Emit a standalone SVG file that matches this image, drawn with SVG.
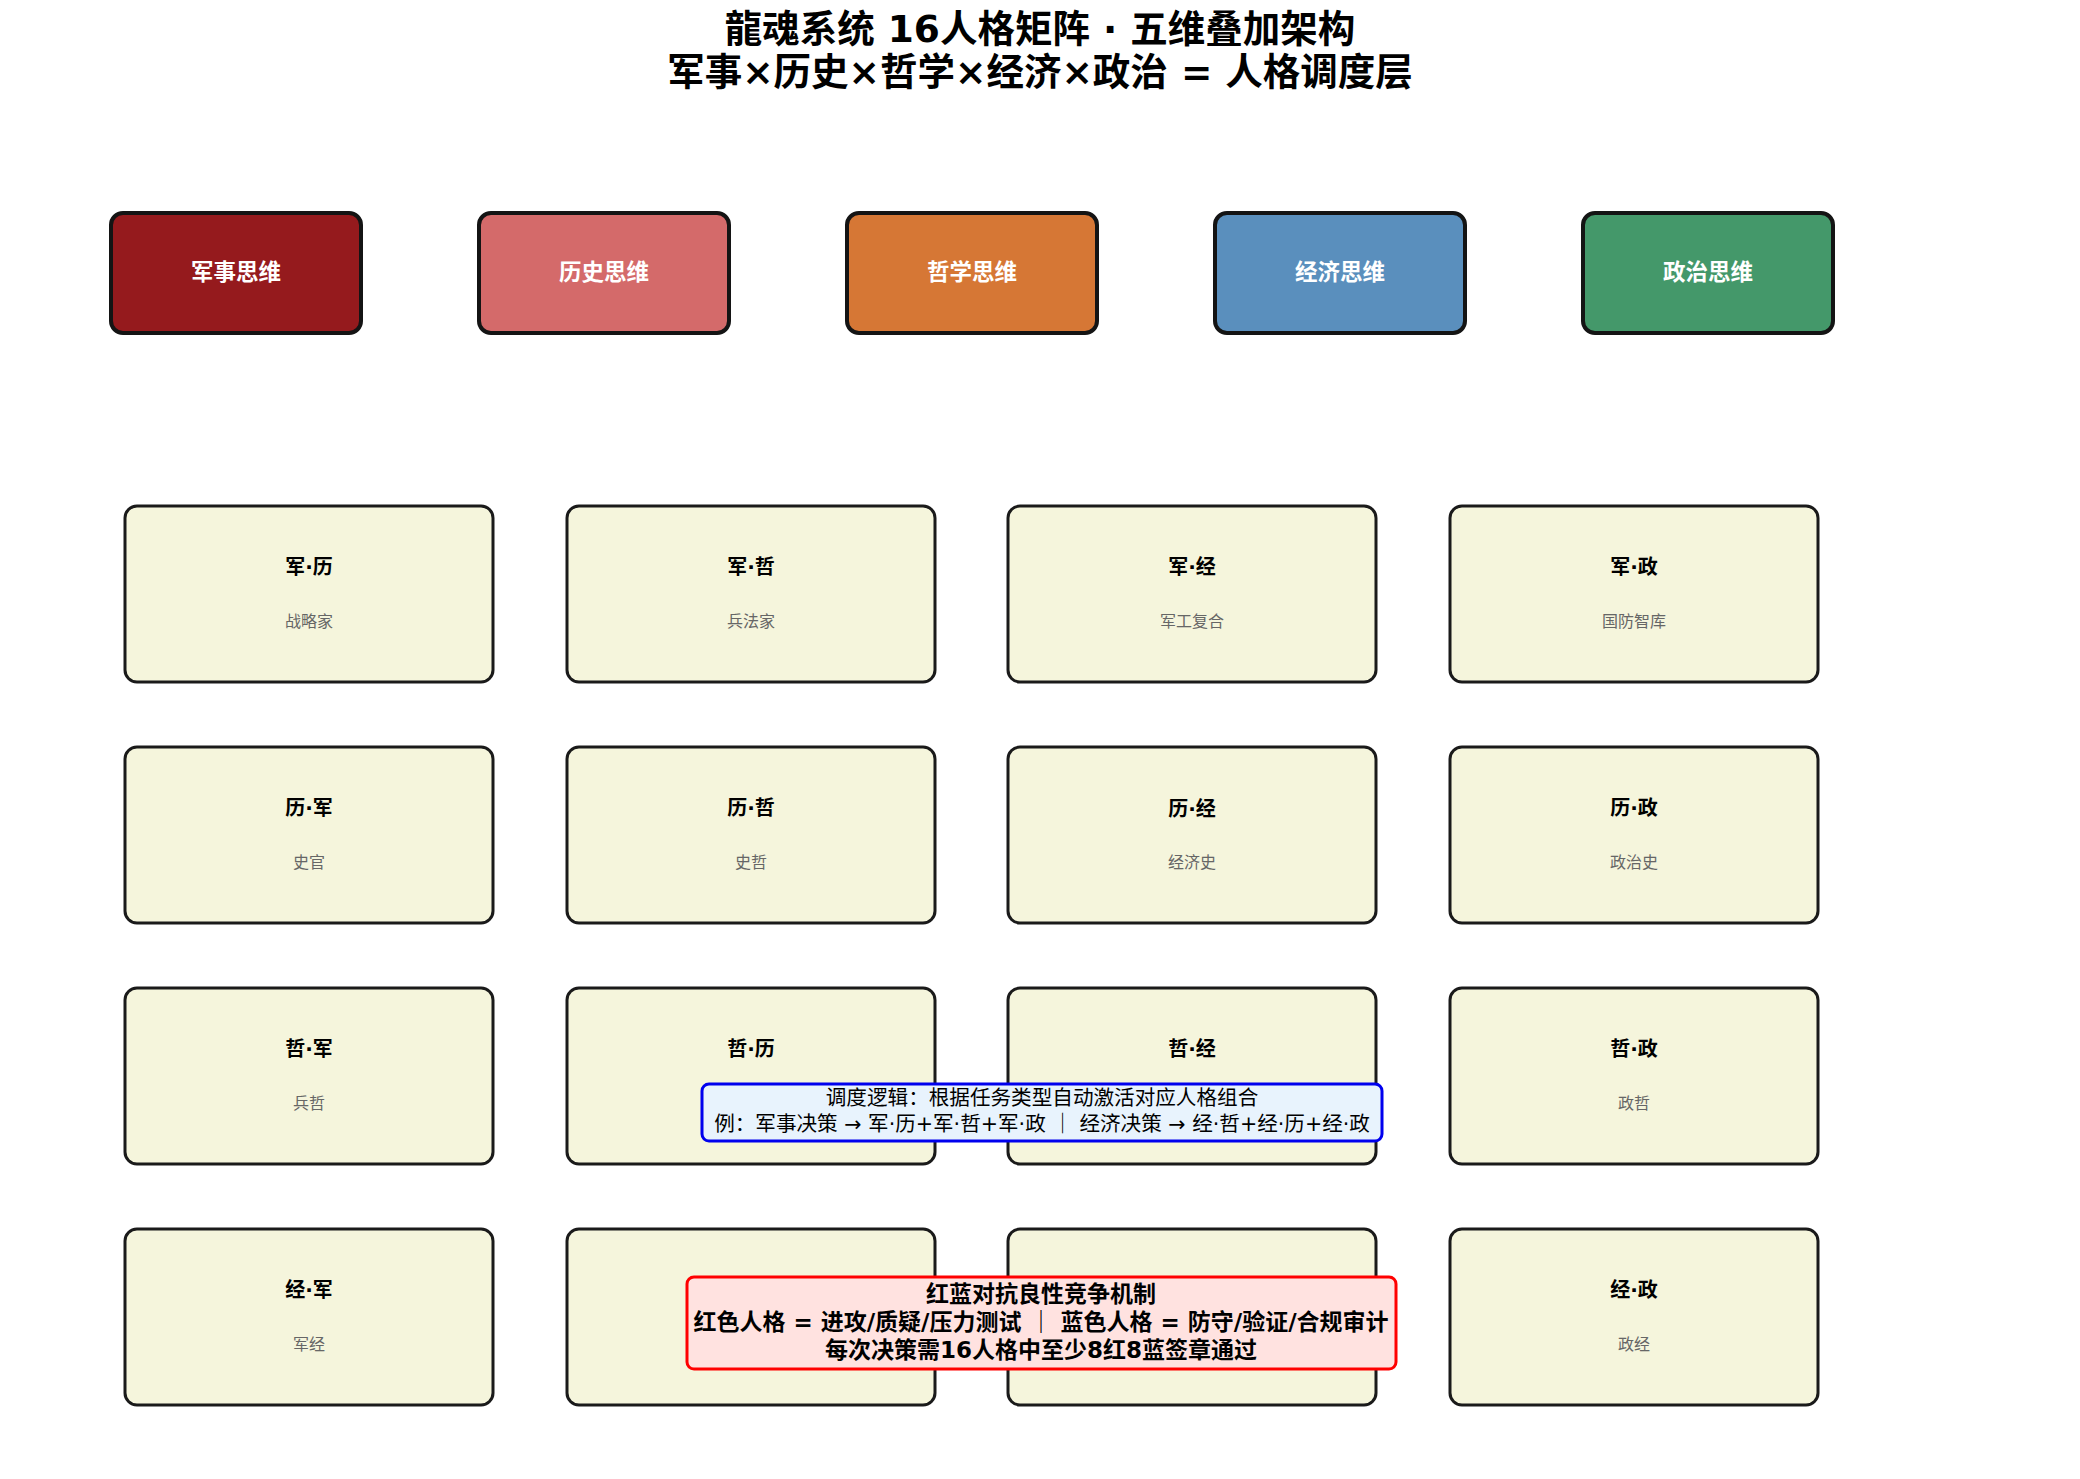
<svg xmlns="http://www.w3.org/2000/svg" width="2080" height="1479" viewBox="0 0 2080 1479">
<style>
text{font-family:"DejaVu Sans","Noto Sans CJK SC",sans-serif;text-anchor:middle}
.title{font-size:37.5px;font-weight:bold;fill:#000}
.dim rect{stroke:#141414;stroke-width:4}
.dim text{font-size:22.5px;font-weight:bold;fill:#fff}
.cell rect{fill:#F5F5DC;stroke:#1a1a1a;stroke-width:3}
.cell .t{font-size:20px;font-weight:bold;fill:#000}
.cell .s{font-size:16px;fill:#666}
.note{font-size:20.6px;fill:#000}
.mech{font-size:23px;font-weight:bold;fill:#000}
</style>
<rect width="2080" height="1479" fill="#fff"/>
<g id="title">
<text class="title" x="1040" y="42">龍魂系统 16人格矩阵 · 五维叠加架构</text>
<text class="title" x="1040" y="85">军事×历史×哲学×经济×政治 = 人格调度层</text>
</g>
<g id="dim-military" class="dim"><rect x="111" y="213" width="250" height="120" rx="12" fill="#951A1D"/><text x="236" y="280">军事思维</text></g>
<g id="dim-history" class="dim"><rect x="479" y="213" width="250" height="120" rx="12" fill="#D46A6A"/><text x="604" y="280">历史思维</text></g>
<g id="dim-philosophy" class="dim"><rect x="847" y="213" width="250" height="120" rx="12" fill="#D67735"/><text x="972" y="280">哲学思维</text></g>
<g id="dim-economy" class="dim"><rect x="1215" y="213" width="250" height="120" rx="12" fill="#5A8FBD"/><text x="1340" y="280">经济思维</text></g>
<g id="dim-politics" class="dim"><rect x="1583" y="213" width="250" height="120" rx="12" fill="#44986A"/><text x="1708" y="280">政治思维</text></g>
<g id="connectors"></g>
<g id="c11" class="cell"><rect x="125" y="506" width="368" height="176" rx="12"/><text class="t" x="309" y="574">军·历</text><text class="s" x="309" y="627">战略家</text></g>
<g id="c12" class="cell"><rect x="567" y="506" width="368" height="176" rx="12"/><text class="t" x="751" y="574">军·哲</text><text class="s" x="751" y="627">兵法家</text></g>
<g id="c13" class="cell"><rect x="1008" y="506" width="368" height="176" rx="12"/><text class="t" x="1192" y="574">军·经</text><text class="s" x="1192" y="627">军工复合</text></g>
<g id="c14" class="cell"><rect x="1450" y="506" width="368" height="176" rx="12"/><text class="t" x="1634" y="574">军·政</text><text class="s" x="1634" y="627">国防智库</text></g>
<g id="c21" class="cell"><rect x="125" y="747" width="368" height="176" rx="12"/><text class="t" x="309" y="815">历·军</text><text class="s" x="309" y="868">史官</text></g>
<g id="c22" class="cell"><rect x="567" y="747" width="368" height="176" rx="12"/><text class="t" x="751" y="815">历·哲</text><text class="s" x="751" y="868">史哲</text></g>
<g id="c23" class="cell"><rect x="1008" y="747" width="368" height="176" rx="12"/><text class="t" x="1192" y="816">历·经</text><text class="s" x="1192" y="868">经济史</text></g>
<g id="c24" class="cell"><rect x="1450" y="747" width="368" height="176" rx="12"/><text class="t" x="1634" y="815">历·政</text><text class="s" x="1634" y="868">政治史</text></g>
<g id="c31" class="cell"><rect x="125" y="988" width="368" height="176" rx="12"/><text class="t" x="309" y="1056">哲·军</text><text class="s" x="309" y="1109">兵哲</text></g>
<g id="c32" class="cell"><rect x="567" y="988" width="368" height="176" rx="12"/><text class="t" x="751" y="1056">哲·历</text></g>
<g id="c33" class="cell"><rect x="1008" y="988" width="368" height="176" rx="12"/><text class="t" x="1192" y="1056">哲·经</text></g>
<g id="c34" class="cell"><rect x="1450" y="988" width="368" height="176" rx="12"/><text class="t" x="1634" y="1056">哲·政</text><text class="s" x="1634" y="1109">政哲</text></g>
<g id="c41" class="cell"><rect x="125" y="1229" width="368" height="176" rx="12"/><text class="t" x="309" y="1297">经·军</text><text class="s" x="309" y="1350">军经</text></g>
<g id="c42" class="cell"><rect x="567" y="1229" width="368" height="176" rx="12"/></g>
<g id="c43" class="cell"><rect x="1008" y="1229" width="368" height="176" rx="12"/></g>
<g id="c44" class="cell"><rect x="1450" y="1229" width="368" height="176" rx="12"/><text class="t" x="1634" y="1297">经·政</text><text class="s" x="1634" y="1350">政经</text></g>
<g id="dispatch-note">
<rect x="702" y="1084" width="680" height="57" rx="7" fill="#E8F3FD" stroke="#0000EE" stroke-width="3"/>
<text class="note" x="1042" y="1105">调度逻辑：根据任务类型自动激活对应人格组合</text>
<text class="note" x="1042" y="1131">例：军事决策 → 军·历+军·哲+军·政 ｜ 经济决策 → 经·哲+经·历+经·政</text>
</g>
<g id="redblue-note">
<rect x="687" y="1277" width="709" height="92" rx="7" fill="#FFE2E0" stroke="#FF0000" stroke-width="3"/>
<text class="mech" x="1041" y="1302">红蓝对抗良性竞争机制</text>
<text class="mech" x="1041" y="1330">红色人格 = 进攻/质疑/压力测试 ｜ 蓝色人格 = 防守/验证/合规审计</text>
<text class="mech" x="1041" y="1358">每次决策需16人格中至少8红8蓝签章通过</text>
</g>
</svg>
